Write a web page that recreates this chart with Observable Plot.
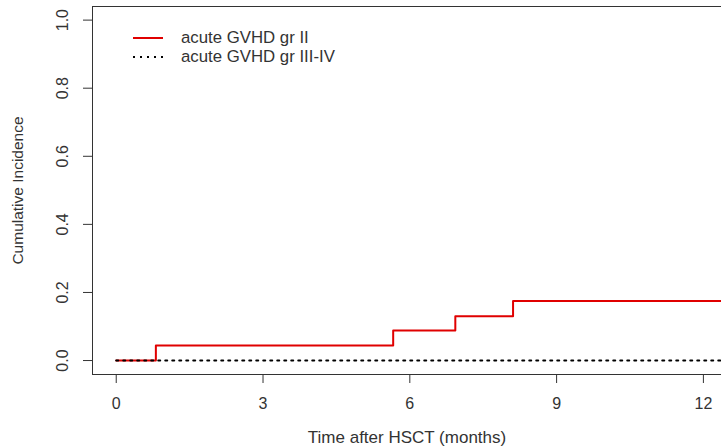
<!DOCTYPE html>
<html><head><meta charset="utf-8">
<script src="https://cdn.jsdelivr.net/npm/d3@7"></script>
<script src="https://cdn.jsdelivr.net/npm/@observablehq/plot@0.6"></script>
<style>
body{margin:0;background:#fff;}
#wrap{position:relative;width:721px;height:448px;overflow:hidden;}
#legend{position:absolute;left:133px;top:28px;font-family:"Liberation Sans",Arial,sans-serif;font-size:16.8px;color:#333;}
.row{display:flex;align-items:center;height:19px;}
.row svg{margin-right:18px;}
</style></head><body><div id="wrap"><div id="legend"></div></div>
<script>
// Data
const timesII = [0, 0.81, 5.66, 6.93, 8.11, 12.6];
const incidenceII = [0, 0.044, 0.088, 0.130, 0.175, 0.175];
const timesIIIIV = [0, 12.6];
const incidenceIIIIV = [0, 0];
const seriesNames = ["acute GVHD gr II", "acute GVHD gr III-IV"];
const seriesColors = ["#e00000", "#000000"];
const seriesDash = [null, "2,5"];
const xTicks = [0, 3, 6, 9, 12];
const yTicks = [0, 0.2, 0.4, 0.6, 0.8, 1.0];
const xDomain = [-0.485, 12.37];
const yDomain = [-0.041, 1.04];

const dataII = timesII.map((t, i) => ({t, v: incidenceII[i]}));
const dataIIIIV = timesIIIIV.map((t, i) => ({t, v: incidenceIIIIV[i]}));

const font = "'Liberation Sans', Arial, sans-serif";
const chart = Plot.plot({
  width: 721, height: 448,
  marginLeft: 92, marginRight: 0, marginTop: 6, marginBottom: 74,
  style: {fontFamily: font, fontSize: "16px", color: "#333", background: "#fff"},
  x: {domain: xDomain},
  y: {domain: yDomain},
  marks: [
    Plot.ruleY([yDomain[0], yDomain[1]], {stroke: "#333"}),
    Plot.ruleX([xDomain[0]], {stroke: "#333"}),
    Plot.axisX({ticks: xTicks, tickSize: 9, tickPadding: 20, lineAnchor: "middle", label: null, stroke: "#333", fill: "#333", fontSize: 16}),
    Plot.axisY({ticks: yTicks, tickFormat: d3.format(".1f"), tickSize: 9, tickPadding: 20.5, tickRotate: -90, textAnchor: "middle", lineAnchor: "middle", label: null, stroke: "#333", fill: "#333", fontSize: 16}),
    Plot.text(["Time after HSCT (months)"], {frameAnchor: "bottom", dy: 63, lineAnchor: "middle", fontSize: 17, fill: "#333"}),
    Plot.text(["Cumulative Incidence"], {frameAnchor: "left", dx: -74, rotate: -90, lineAnchor: "middle", textAnchor: "middle", fontSize: 15.5, fill: "#333"}),
    Plot.line(dataII, {x: "t", y: "v", curve: "step-after", stroke: seriesColors[0], strokeWidth: 2, clip: true}),
    Plot.line(dataIIIIV, {x: "t", y: "v", stroke: seriesColors[1], strokeWidth: 2, strokeDasharray: seriesDash[1], clip: true})
  ]
});
document.getElementById("wrap").prepend(chart);

const legend = document.getElementById("legend");
seriesNames.forEach((name, i) => {
  const row = document.createElement("div");
  row.className = "row";
  row.innerHTML = `<svg width="30" height="6"><line x1="0" x2="30" y1="3" y2="3" stroke="${seriesColors[i]}" stroke-width="2" ${seriesDash[i] ? `stroke-dasharray="${seriesDash[i]}"` : ""}/></svg><span>${name}</span>`;
  legend.appendChild(row);
});
</script>
</body></html>
